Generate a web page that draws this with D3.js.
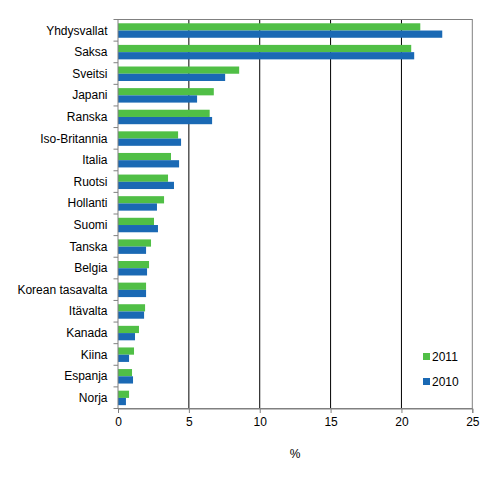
<!DOCTYPE html>
<html><head><meta charset="utf-8">
<script src="https://cdn.jsdelivr.net/npm/d3@7"></script>
<style>body{margin:0;background:#fff}svg{display:block;font-family:"Liberation Sans",Arial,sans-serif}</style>
</head><body>
<script>
const categories = ["Yhdysvallat","Saksa","Sveitsi","Japani","Ranska","Iso-Britannia","Italia","Ruotsi","Hollanti","Suomi","Tanska","Belgia","Korean tasavalta","Itävalta","Kanada","Kiina","Espanja","Norja"];
const series = ["2011","2010"];
const values2011 = [21.33,20.69,8.55,6.76,6.47,4.24,3.74,3.53,3.25,2.54,2.33,2.19,1.98,1.91,1.48,1.13,0.99,0.78];
const values2010 = [22.88,20.90,7.56,5.58,6.64,4.45,4.31,3.95,2.75,2.82,1.98,2.05,1.98,1.84,1.20,0.78,1.06,0.56];
const xTicks = [0,5,10,15,20,25];
const colors = {"2011":"#50bf46","2010":"#1a69b4"};

const W=493,H=481;
const svg=d3.select("body").append("svg").attr("width",W).attr("height",H);
const L=118,R=472.3,T=19.5,B=408.5;
const x=d3.scaleLinear().domain([0,25]).range([L,R]);
const y=d3.scaleBand().domain(categories).range([T,B]).padding(0);
const bw=y.bandwidth();
const y1=d3.scaleBand().domain(series).range([bw*0.175,bw*0.845]);
const data=categories.map((c,i)=>({c,"2011":values2011[i],"2010":values2010[i]}));

// gridlines
svg.append("g").selectAll("line").data(xTicks.filter(t=>t>0&&t<25)).join("line")
 .attr("x1",d=>x(d)).attr("x2",d=>x(d)).attr("y1",T).attr("y2",B)
 .attr("stroke","#000").attr("stroke-width",1);

// bars
const g=svg.append("g").selectAll("g").data(data).join("g").attr("transform",d=>`translate(0,${y(d.c)})`);
g.selectAll("rect").data(d=>series.map(s=>({s,v:d[s]}))).join("rect")
 .attr("x",x(0)).attr("y",d=>y1(d.s)).attr("height",y1.bandwidth())
 .attr("width",d=>x(d.v)-x(0)).attr("fill",d=>colors[d.s]);

// frame
svg.append("rect").attr("x",L).attr("y",T).attr("width",R-L).attr("height",B-T)
 .attr("fill","none").attr("stroke","#808080").attr("stroke-width",1);

// left axis ticks at band boundaries
const bounds=categories.map(c=>y(c)).concat([B]);
svg.append("g").selectAll("line").data(bounds).join("line")
 .attr("x1",L-4.5).attr("x2",L).attr("y1",d=>d).attr("y2",d=>d).attr("stroke","#808080");
svg.append("g").selectAll("text").data(categories).join("text")
 .attr("x",107.5).attr("y",d=>y(d)+bw/2).attr("dy","0.35em").attr("text-anchor","end")
 .attr("font-size",12).attr("fill","#000").text(d=>d);

// bottom axis
const xa=d3.axisBottom(x).tickValues(xTicks).tickSize(4.5).tickPadding(4).tickFormat(d3.format("d"));
const ax=svg.append("g").attr("transform",`translate(0,${B})`).call(xa);
ax.select(".domain").attr("stroke","#808080");
ax.selectAll(".tick line").attr("stroke","#808080");
ax.selectAll(".tick text").attr("font-size",12).attr("fill","#000").attr("font-family","Liberation Sans, Arial, sans-serif");

svg.append("text").attr("x",295).attr("y",458).attr("text-anchor","middle").attr("font-size",12).text("%");

// legend
const lg=svg.append("g").selectAll("g").data(series).join("g")
 .attr("transform",(d,i)=>`translate(423,${353+i*25})`);
lg.append("rect").attr("width",7).attr("height",7).attr("fill",d=>colors[d]);
lg.append("text").attr("x",9).attr("y",3.5).attr("dy","0.35em").attr("font-size",12).text(d=>d);
</script>
</body></html>
